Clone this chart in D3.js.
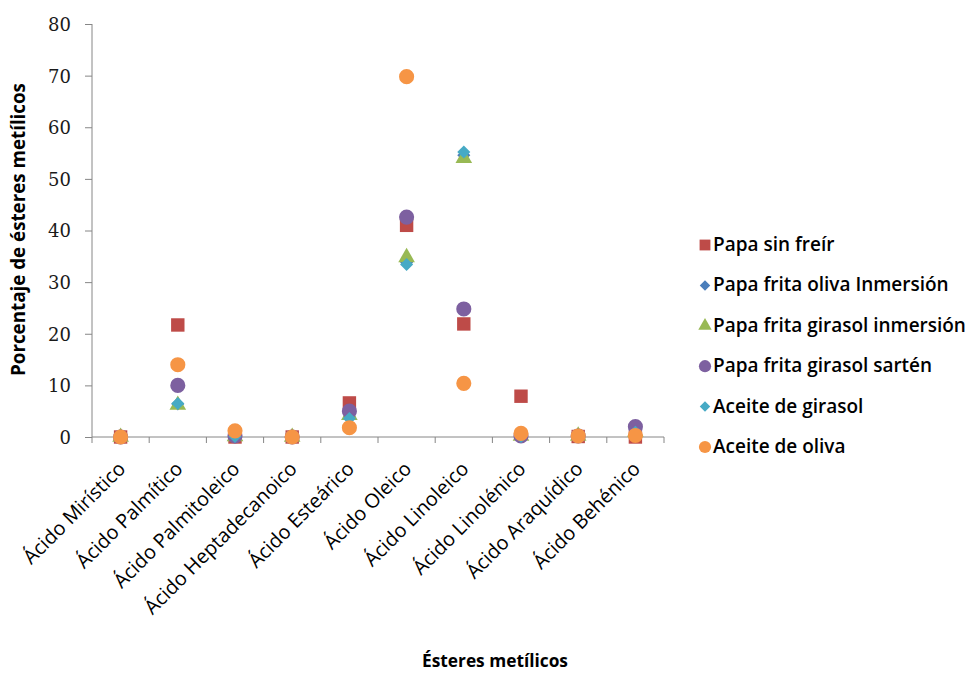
<!DOCTYPE html>
<html><head><meta charset="utf-8">
<script src="https://cdn.jsdelivr.net/npm/d3@7"></script>
<style>body{margin:0;background:#fff}svg text{font-family:"Open Sans",Lato,sans-serif;fill:#000}</style>
</head><body>
<svg id="c" width="971" height="675"></svg>
<script>
const categories = ["Ácido Mirístico","Ácido Palmítico","Ácido Palmitoleico","Ácido Heptadecanoico","Ácido Esteárico","Ácido Oleico","Ácido Linoleico","Ácido Linolénico","Ácido Araquídico","Ácido Behénico"];
const seriesNames = ["Papa sin freír","Papa frita oliva Inmersión","Papa frita girasol inmersión","Papa frita girasol sartén","Aceite de girasol","Aceite de oliva"];
const papaSinFreir      = [0, 21.7, 0,   0, 6.6, 41.0, 21.9, 7.9, 0.1, 0];
const papaFritaOliva    = [0, 6.4,  0,   0, 4.0, 33.8, 54.6, 0.1, 0.1, 1.0];
const papaFritaGirasolI = [0, 6.2,  0.1, 0, 4.2, 34.8, 54.0, 0.2, 0.2, 1.0];
const papaFritaGirasolS = [0, 10.0, 0.2, 0, 5.0, 42.6, 24.8, 0.2, 0.2, 2.0];
const aceiteGirasol     = [0, 6.5,  0.1, 0, 3.6, 33.4, 55.2, 0.1, 0.1, 0.9];
const aceiteOliva       = [0, 14.0, 1.2, 0, 1.8, 69.8, 10.4, 0.7, 0.2, 0.3];
const yTicks = [0,10,20,30,40,50,60,70,80];

const seriesValues = [papaSinFreir, papaFritaOliva, papaFritaGirasolI, papaFritaGirasolS, aceiteGirasol, aceiteOliva];
const colors = ["#BE4B48","#4A7EBB","#98B954","#7D60A0","#46AAC5","#F69545"];
const shapes = [d3.symbolSquare, d3.symbolSquare, d3.symbolTriangle, d3.symbolCircle, d3.symbolSquare, d3.symbolCircle];
const rotations = [0,45,0,0,45,0];
const sizes = [180, 85, 120, 180, 85, 180];

const svg = d3.select("#c");
const L=92,R=664,T=24,B=437;
const x = d3.scaleBand().domain(categories).range([L,R]);
const y = d3.scaleLinear().domain([0,80]).range([B,T]);

function fit(sel, target, base){
  sel.style("font-size", base+"px");
  const w = sel.node().getComputedTextLength();
  sel.style("font-size", (base*target/w).toFixed(2)+"px");
}

// y axis
const ya = svg.append("g").attr("transform",`translate(${L},0)`)
  .call(d3.axisLeft(y).tickValues(yTicks).tickSize(7).tickPadding(14));
ya.selectAll("path,line").attr("stroke","#868686");
ya.selectAll("text").style("font-size","18px").style("font-family","'DejaVu Serif','Liberation Serif',serif").style("fill","#1a1a1a").attr("dy","0.36em");
ya.select(".domain").attr("d",`M0,${T}V${B}`);

// x axis
const xa = svg.append("g").attr("transform",`translate(0,${B})`);
xa.append("line").attr("x1",L).attr("x2",R).attr("stroke","#868686");
xa.selectAll("line.t").data(d3.range(categories.length+1)).join("line")
  .attr("x1",i=>L+i*x.step()).attr("x2",i=>L+i*x.step()).attr("y1",0).attr("y2",6).attr("stroke","#868686");
const xl = xa.selectAll("text").data(categories).join("text")
  .attr("transform",d=>`translate(${x(d)+x.bandwidth()/2+6},33) rotate(-45)`)
  .attr("text-anchor","end").style("font-size","16px").text(d=>d);
const hept = xl.filter(d=>d==="Ácido Heptadecanoico");
const hw = hept.node().getComputedTextLength();
xl.style("font-size",(16*206/hw).toFixed(2)+"px");

// points
seriesValues.forEach((vals,si)=>{
  svg.append("g").selectAll("path").data(vals).join("path")
    .attr("transform",(v,i)=>`translate(${x(categories[i])+x.bandwidth()/2},${y(v)}) rotate(${rotations[si]})`)
    .attr("d",d3.symbol().type(shapes[si]).size(sizes[si]))
    .attr("fill",colors[si]);
});

// axis titles
const yt = svg.append("text").attr("transform",`translate(25,${(83+376)/2}) rotate(-90)`).attr("text-anchor","middle")
  .style("font-weight","bold").text("Porcentaje de ésteres metílicos");
fit(yt, 293, 16);
const xt = svg.append("text").attr("x",495).attr("y",667).attr("text-anchor","middle")
  .style("font-weight","bold").text("Ésteres metílicos");
fit(xt, 146, 16);

// legend
const lg = svg.append("g");
const lt = [];
seriesNames.forEach((n,i)=>{
  const yy = 245 + i*40.4;
  lg.append("path").attr("transform",`translate(705,${yy}) rotate(${rotations[i]})`)
    .attr("d",d3.symbol().type(shapes[i]).size(sizes[i]*0.65)).attr("fill",colors[i]);
  lt.push(lg.append("text").attr("x",713).attr("y",yy+6).style("font-weight","600").text(n));
});
lt[2].style("font-size","16px");
const lw = lt[2].node().getComputedTextLength();
lt.forEach(t=>t.style("font-size",(16*253/lw).toFixed(2)+"px"));
</script>
</body></html>
